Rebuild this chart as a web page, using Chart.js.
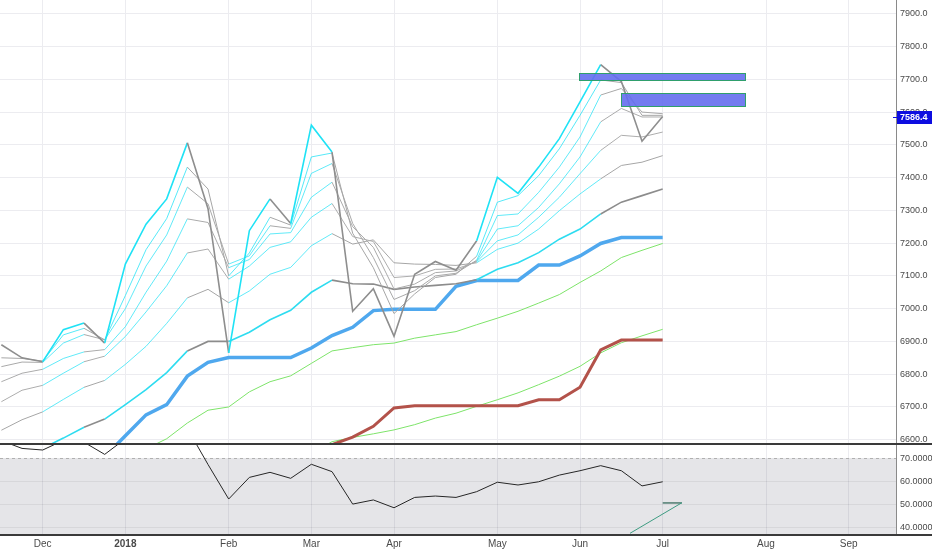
<!DOCTYPE html>
<html>
<head>
<meta charset="utf-8">
<script src="https://cdn.jsdelivr.net/npm/chart.js@4.4.1/dist/chart.umd.min.js"></script>
<style>
  html, body { margin: 0; padding: 0; background: #fff; }
  #wrap { position: relative; width: 932px; height: 550px; overflow: hidden; }
  #mainBox { position: absolute; left: 0; top: 0; }
  #rsiBox { position: absolute; left: 0; top: 443px; }
  canvas { display: block; }
</style>
</head>
<body>
<div id="wrap">
  <div id="mainBox"><canvas id="mainChart" width="932" height="443"></canvas></div>
  <div id="rsiBox"><canvas id="rsiChart" width="932" height="107"></canvas></div>
</div>
<script>
// Weekly bars, 20 Nov 2017 .. 2 Jul 2018 (x = weeks counted from 4 Dec 2017)
const weeks = ['2017-11-20', '2017-11-27', '2017-12-04', '2017-12-11', '2017-12-18', '2017-12-25',
    '2018-01-01', '2018-01-08', '2018-01-15', '2018-01-22', '2018-01-29', '2018-02-05', '2018-02-12',
    '2018-02-19', '2018-02-26', '2018-03-05', '2018-03-12', '2018-03-19', '2018-03-26', '2018-04-02',
    '2018-04-09', '2018-04-16', '2018-04-23', '2018-04-30', '2018-05-07', '2018-05-14', '2018-05-21',
    '2018-05-28', '2018-06-04', '2018-06-11', '2018-06-18', '2018-06-25', '2018-07-02'];
const firstWeek = -2;

// month ticks on the time axis
const monthWeeks = [0, 4, 9, 13, 17, 22, 26, 30, 35, 39];
const monthLabels = ['Dec', '2018', 'Feb', 'Mar', 'Apr', 'May', 'Jun', 'Jul', 'Aug', 'Sep'];

// ribbon: close and fast moving averages
const close = [6890, 6850, 6838, 6936, 6956, 6895, 7136, 7258, 7335, 7506, 7305, 6865, 7238, 7335, 7260,
    7560, 7478, 6992, 7061, 6916, 7105, 7144, 7117, 7207, 7401, 7352, 7432, 7519, 7631, 7745, 7693, 7511, 7586.4];
const ma3 = [6850, 6848, 6840, 6920, 6940, 6905, 7040, 7180, 7275, 7432, 7365, 7100, 7170, 7279, 7255,
    7463, 7475, 7230, 7125, 6985, 7045, 7095, 7105, 7160, 7325, 7345, 7406, 7488, 7590, 7698, 7690, 7590, 7590];
const ma5 = [6823, 6837, 6836, 6895, 6921, 6905, 7000, 7130, 7225, 7371, 7320, 7136, 7161, 7253, 7245,
    7413, 7443, 7260, 7156, 7028, 7055, 7100, 7108, 7148, 7284, 7289, 7355, 7432, 7524, 7652, 7672, 7600, 7595];
const ma8 = [6777, 6803, 6815, 6848, 6868, 6875, 6945, 7050, 7145, 7274, 7263, 7125, 7150, 7228, 7232,
    7340, 7386, 7250, 7187, 7060, 7075, 7110, 7115, 7145, 7243, 7253, 7309, 7381, 7463, 7570, 7611, 7585, 7585];
const ma10 = [6716, 6751, 6766, 6803, 6838, 6855, 6915, 6990, 7070, 7170, 7182, 7090, 7130, 7187, 7204,
    7279, 7321, 7220, 7205, 7095, 7100, 7120, 7121, 7143, 7207, 7225, 7279, 7340, 7412, 7483, 7529, 7524, 7539];
const ma12 = [6629, 6661, 6685, 6723, 6760, 6781, 6830, 6885, 6955, 7033, 7059, 7018, 7054, 7105, 7126,
    7192, 7229, 7197, 7210, 7140, 7136, 7135, 7132, 7140, 7181, 7200, 7243, 7299, 7350, 7396, 7437, 7447, 7467];
const ma15 = [6535, 6555, 6574, 6605, 6638, 6663, 6707, 6753, 6805, 6871, 6900, 6900, 6928, 6966, 6995,
    7050, 7087, 7076, 7075, 7059, 7066, 7071, 7076, 7088, 7120, 7140, 7171, 7212, 7243, 7289, 7325, 7345, 7365];
// 1 = ribbon cyan, 0 = ribbon grey, 2 = cyan only on rising lines
const trendFlag = [0, 0, 0, 1, 1, 0, 1, 1, 1, 1, 0, 0, 1, 1, 2,
    1, 1, 0, 0, 0, 0, 0, 0, 0, 1, 1, 1, 1, 1, 1, 0, 0, 0];

// slower lines
const baseLine = [null, null, null, null, 6490, 6548, 6612, 6676, 6707, 6794, 6836, 6851, 6851, 6851, 6851,
    6880, 6918, 6943, 6994, 6998, 6998, 6998, 7068, 7086, 7086, 7086, 7133, 7133, 7161, 7199, 7217, 7217, 7217];
const greenFast = [null, null, null, null, null, null, null, 6572, 6603, 6651, 6690, 6700, 6746, 6777, 6795,
    6833, 6871, 6881, 6890, 6895, 6910, 6920, 6930, 6951, 6971, 6992, 7017, 7043, 7080, 7115, 7156, 7178, 7199];
const greenSlow = [null, null, null, null, null, null, null, null, null, null, null, null, null, null, null,
    6557, 6594, 6607, 6618, 6630, 6646, 6666, 6681, 6702, 6722, 6743, 6768, 6794, 6824, 6865, 6896, 6917, 6937];
const redLine = [null, null, null, null, null, null, null, null, null, null, null, null, null, null, null,
    6555, 6585, 6608, 6641, 6697, 6704, 6704, 6704, 6704, 6704, 6704, 6722, 6722, 6760, 6874, 6904, 6904, 6904];

// lower pane oscillator
const rsi = [77.7, 74.3, 73.6, 77.8, 77.0, 71.7, 78.5, 82, 84, 83, 67.3, 52.3, 61.7, 63.9, 61.3,
    67.4, 64.2, 50.1, 51.9, 48.5, 53.0, 53.6, 53.0, 55.5, 59.6, 58.4, 59.8, 62.7, 64.6, 66.8, 64.6, 58.0, 59.8];
const rsiTicks = [40, 50, 60, 70];
const bandTop = 70;
const bandBottom = 30;

// drawings
const zoneFrom = [25.96, 27.97];
const zoneTo = [33.97, 33.97];
const zoneLow = [7699, 7618];
const zoneHigh = [7719, 7659];
const trendX = [28.42, 30.93];
const trendY = [37.4, 50.7];
const levelX = [30.0, 30.93];
const levelY = [50.6, 50.6];

const FONT = "'Liberation Sans Narrow', 'Liberation Sans', Arial, sans-serif";
const xMin = -2.066;
const xMax = 41.29;

function series(values) {
    return values.map((v, k) => ({ x: firstWeek + k, y: v }));
}

function trendColor(cyan, gray) {
    return ctx => {
        const f = trendFlag[ctx.p1DataIndex];
        if (f === 1) return cyan;
        if (f === 2 && ctx.p1.parsed.y > ctx.p0.parsed.y) return cyan;
        return gray;
    };
}

function ribbonLine(values, width, cyan, gray) {
    return {
        data: series(values),
        borderColor: gray,
        borderWidth: width,
        segment: { borderColor: trendColor(cyan, gray) },
        pointRadius: 0,
        tension: 0,
        clip: 0
    };
}

function plainLine(values, width, color) {
    return {
        data: series(values),
        borderColor: color,
        borderWidth: width,
        pointRadius: 0,
        tension: 0,
        clip: 0
    };
}

function monthTicks(scale) {
    scale.ticks = monthWeeks.map(v => ({ value: v }));
}

function noPadding(scale) {
    scale.paddingTop = 0;
    scale.paddingBottom = 0;
    scale.paddingLeft = 0;
    scale.paddingRight = 0;
}

// blue/green boxes drawn on the price pane
const zonesPlugin = {
    id: 'zones',
    afterDatasetsDraw(chart) {
        const { ctx, scales: { x, y } } = chart;
        ctx.save();
        zoneFrom.forEach((x0, k) => {
            const l = Math.round(x.getPixelForValue(x0));
            const r = Math.round(x.getPixelForValue(zoneTo[k]));
            const t = Math.round(y.getPixelForValue(zoneHigh[k]));
            const b = Math.round(y.getPixelForValue(zoneLow[k]));
            ctx.fillStyle = 'rgba(100,110,238,0.9)';
            ctx.fillRect(l, t, r - l, b - t);
            ctx.strokeStyle = '#2f9f6c';
            ctx.lineWidth = 1;
            ctx.strokeRect(l + 0.5, t + 0.5, r - l, b - t);
        });
        ctx.restore();
    }
};

// last price tag on the axis
const priceTagPlugin = {
    id: 'priceTag',
    afterDraw(chart) {
        const { ctx, scales: { y } } = chart;
        const last = close[close.length - 1];
        const yp = Math.round(y.getPixelForValue(last));
        ctx.save();
        ctx.fillStyle = '#0d0de0';
        ctx.fillRect(y.left + 1, yp - 6, chart.width - y.left - 1, 13);
        ctx.fillRect(y.left - 3, yp, 4, 1);
        ctx.fillStyle = '#ffffff';
        ctx.font = 'bold 9px ' + FONT;
        ctx.textBaseline = 'middle';
        ctx.fillText(last.toFixed(1), y.left + 4, yp + 1);
        ctx.restore();
    }
};

// shaded band, dashed 70 level and pane separators
const rsiPanePlugin = {
    id: 'rsiPane',
    beforeDatasetsDraw(chart) {
        const { ctx, chartArea: a, scales: { y } } = chart;
        const top = Math.round(y.getPixelForValue(bandTop));
        const bot = Math.min(a.bottom, y.getPixelForValue(bandBottom));
        ctx.save();
        ctx.fillStyle = 'rgba(100,100,120,0.17)';
        ctx.fillRect(a.left, top, a.right - a.left, bot - top);
        ctx.setLineDash([3, 3]);
        ctx.strokeStyle = '#b0b0b0';
        ctx.lineWidth = 1;
        ctx.beginPath();
        ctx.moveTo(a.left, top + 0.5);
        ctx.lineTo(a.right, top + 0.5);
        ctx.stroke();
        ctx.restore();
    },
    afterDraw(chart) {
        const { ctx, chartArea: a, width } = chart;
        ctx.save();
        ctx.fillStyle = '#3a3a3a';
        ctx.fillRect(0, 0, width, 2);
        ctx.fillRect(0, a.bottom, width, 2);
        ctx.restore();
    }
};

const gridColor = '#ececf0';

new Chart(document.getElementById('mainChart').getContext('2d'), {
    type: 'line',
    data: {
        datasets: [
            ribbonLine(close, 1.6, '#1fe2f5', '#8e8e8e'),
            ribbonLine(ma3, 1, 'rgba(30,225,245,0.75)', '#a6a6a6'),
            ribbonLine(ma5, 1, 'rgba(30,225,245,0.7)', '#a9a9a9'),
            ribbonLine(ma8, 1, 'rgba(30,225,245,0.7)', '#ababab'),
            ribbonLine(ma10, 1, 'rgba(30,225,245,0.7)', '#adadad'),
            ribbonLine(ma12, 1, 'rgba(30,225,245,0.7)', '#a6a6a6'),
            ribbonLine(ma15, 1.6, '#2edcf0', '#8c8c8c'),
            plainLine(baseLine, 3.5, '#4fa8ee'),
            plainLine(redLine, 3, '#b3524a'),
            plainLine(greenFast, 1, '#7ee46a'),
            plainLine(greenSlow, 1, '#7ee46a')
        ]
    },
    options: {
        responsive: false,
        animation: false,
        events: [],
        layout: { padding: 0 },
        plugins: {
            legend: { display: false },
            tooltip: { enabled: false }
        },
        scales: {
            x: {
                type: 'linear',
                min: xMin,
                max: xMax,
                afterBuildTicks: monthTicks,
                afterFit: scale => { scale.height = 0; noPadding(scale); },
                ticks: { display: false },
                grid: { color: gridColor, drawTicks: false },
                border: { display: false }
            },
            y: {
                position: 'right',
                min: 6590,
                max: 7942,
                afterFit: scale => { scale.width = 36; noPadding(scale); },
                ticks: {
                    stepSize: 100,
                    includeBounds: false,
                    padding: 4,
                    color: '#4a4a4a',
                    font: { family: FONT, size: 9 },
                    callback: v => v.toFixed(1)
                },
                grid: { color: gridColor, drawTicks: false },
                border: { display: true, color: '#8a8a8a' }
            }
        }
    },
    plugins: [zonesPlugin, priceTagPlugin]
});

new Chart(document.getElementById('rsiChart').getContext('2d'), {
    type: 'line',
    data: {
        datasets: [
            plainLine(rsi, 1, '#262626'),
            {
                data: trendX.map((v, k) => ({ x: v, y: trendY[k] })),
                borderColor: '#3e9c82',
                borderWidth: 1,
                pointRadius: 0,
                clip: 0
            },
            {
                data: levelX.map((v, k) => ({ x: v, y: levelY[k] })),
                borderColor: '#4f7d70',
                borderWidth: 1.5,
                pointRadius: 0,
                clip: 0
            }
        ]
    },
    options: {
        responsive: false,
        animation: false,
        events: [],
        layout: { padding: 0 },
        plugins: {
            legend: { display: false },
            tooltip: { enabled: false }
        },
        scales: {
            x: {
                type: 'linear',
                min: xMin,
                max: xMax,
                afterBuildTicks: monthTicks,
                afterFit: scale => { scale.height = 16; noPadding(scale); },
                ticks: {
                    padding: 4,
                    maxRotation: 0,
                    autoSkip: false,
                    color: '#4a4a4a',
                    font: ctx => ({
                        family: FONT,
                        size: 10,
                        weight: ctx.tick && ctx.tick.value === 4 ? 'bold' : 'normal'
                    }),
                    callback: v => monthLabels[monthWeeks.indexOf(v)]
                },
                grid: { color: gridColor, drawTicks: false },
                border: { display: false }
            },
            y: {
                position: 'right',
                min: 37.1,
                max: 76.65,
                afterBuildTicks: scale => { scale.ticks = rsiTicks.map(v => ({ value: v })); },
                afterFit: scale => { scale.width = 36; noPadding(scale); },
                ticks: {
                    padding: 4,
                    color: '#4a4a4a',
                    font: { family: FONT, size: 9 },
                    callback: v => v.toFixed(4)
                },
                grid: {
                    drawTicks: false,
                    color: ctx => ctx.tick && ctx.tick.value === bandTop ? 'rgba(0,0,0,0)' : 'rgba(0,0,0,0.07)'
                },
                border: { display: true, color: '#8a8a8a' }
            }
        }
    },
    plugins: [rsiPanePlugin]
});
</script>
</body>
</html>
